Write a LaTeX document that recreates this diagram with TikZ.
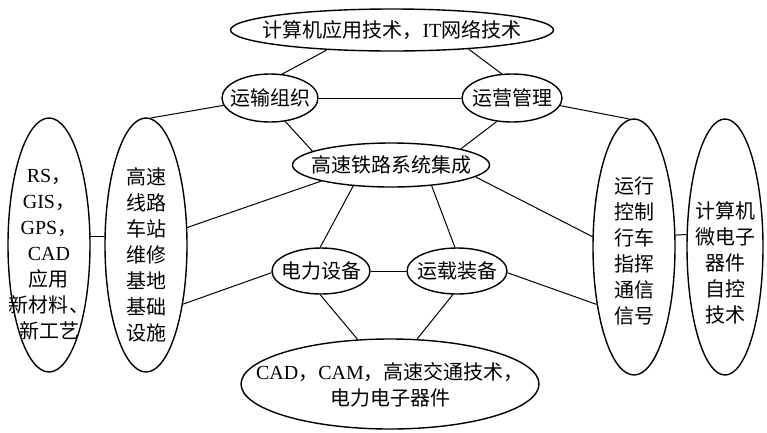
\documentclass[tikz,border=0pt]{standalone}
\usepackage{fontspec}
\setmainfont{Liberation Serif}
\newfontfamily\cjk{Noto Sans CJK SC}
\newfontfamily\latf{Liberation Serif}
\usetikzlibrary{shapes.geometric}
\tikzset{
  oval/.style={ellipse, draw, line width=1.4pt, inner sep=0pt},
  link/.style={line width=1pt},
  stack/.style={inner sep=0pt, align=center, font=\cjk\fontsize{20}{26}\selectfont}
}
\begin{document}
\begin{tikzpicture}[x=1pt,y=-1pt]
\useasboundingbox (0,0) rectangle (767,432);
% ellipses
\node[oval, minimum width=323pt, minimum height=42pt] (top) at (392,30) {};
\node[oval, minimum width=96pt, minimum height=48pt] (ys) at (270,98) {};
\node[oval, minimum width=100pt, minimum height=48pt] (yy) at (512,98) {};
\node[oval, minimum width=197pt, minimum height=44pt] (hub) at (391,165) {};
\node[oval, minimum width=82pt, minimum height=254pt] (L1) at (49,245) {};
\node[oval, minimum width=82pt, minimum height=254pt] (L2) at (146,245) {};
\node[oval, minimum width=82pt, minimum height=256pt] (R1) at (634,247) {};
\node[oval, minimum width=76pt, minimum height=256pt] (R2) at (725,247) {};
\node[oval, minimum width=98pt, minimum height=46pt] (dl) at (321,271) {};
\node[oval, minimum width=100pt, minimum height=46pt] (zb) at (457,271) {};
\node[oval, minimum width=298pt, minimum height=90pt] (bot) at (390,384) {};
% texts
\node[stack] (topt) at (392,30) {计算机应用技术，{\latf IT}网络技术};
\node[stack] (yst) at (270,98) {运输组织};
\node[stack] (yyt) at (512,98) {运营管理};
\node[stack] (hubt) at (391,165) {高速铁路系统集成};
\node[stack] (dlt) at (321,271) {电力设备};
\node[stack] (zbt) at (457,271) {运载装备};
\node[stack] (bott) at (390,385) {{\latf CAD}，{\latf CAM}，高速交通技术，\\电力电子器件};
\node[stack] (L1t) at (49,255) {{\latf RS}，\\{\latf GIS}，\\{\latf GPS}，\\{\latf CAD}\\应用\\新材料、\\新工艺};
\node[stack] (L2t) at (146,255) {高速\\线路\\车站\\维修\\基地\\基础\\设施};
\node[stack] (R1t) at (634,251) {运行\\控制\\行车\\指挥\\通信\\信号};
\node[stack] (R2t) at (725,263) {计算机\\微电子\\器件\\自控\\技术};
% connectors
\draw[link] (top.197) -- (ys.63);
\draw[link] (top.346) -- (yy.113);
\draw[link] (ys.east) -- (yy.west);
\draw[link] (ys.303) -- (hub.170);
\draw[link] (yy.237) -- (hub.13);
\draw[link] (ys.189) -- (L2.88);
\draw[link] (yy.351) -- (R1.92);
\draw[link] (hub.193) -- (L2.23);
\draw[link] (hub.209) -- (dl.92);
\draw[link] (hub.333) -- (zb.95);
\draw[link] (hub.352) -- (R1.166);
\draw[link] (dl.182) -- (L2.302);
\draw[link] (dl.east) -- (zb.west);
\draw[link] (zb.358) -- (R1.237);
\draw[link] (dl.268) -- (bot.126);
\draw[link] (zb.260) -- (bot.59);
\draw[link] (L1.12) -- (L2.168);
\draw[link] (R1.16) -- (R2.162);
\end{tikzpicture}
\end{document}
